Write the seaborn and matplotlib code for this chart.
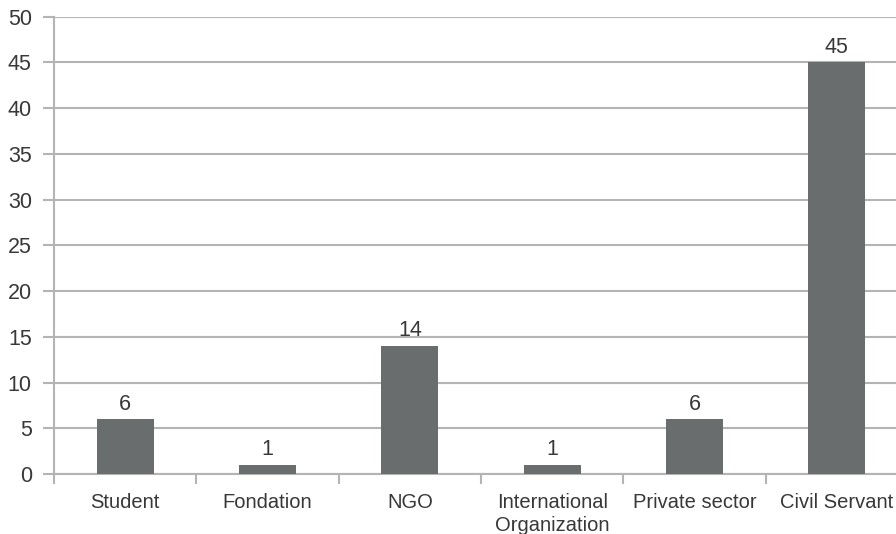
import numpy as np
import pandas as pd
import seaborn as sns
import matplotlib.pyplot as plt
from matplotlib.ticker import FixedLocator

# values
categories = ["Student", "Fondation", "NGO", "International\nOrganization",
              "Private sector", "Civil Servant"]
counts = [6, 1, 14, 1, 6, 45]

bar_color = "#6a6d6d"
grid_color = "#b4b4b4"
text_color = "#383838"

sns.set_theme(style="white")
plt.rcParams["font.family"] = ["Liberation Sans", "DejaVu Sans"]

df = pd.DataFrame({"category": categories, "count": counts})

fig = plt.figure(figsize=(8.96, 5.34), dpi=100)
# axes runs past the right edge, as in the reference
ax = fig.add_axes([54 / 896, 60 / 534, 854 / 896, 457.3 / 534])

sns.barplot(data=df, x="category", y="count", color=bar_color, width=0.4,
            saturation=1, linewidth=0, ax=ax, zorder=3)

ax.set_ylim(0, 50)
ax.set_xlim(-0.5, len(categories) - 0.5)
ax.set_yticks(np.arange(0, 51, 5))
ax.yaxis.grid(True, color=grid_color, linewidth=1.5, zorder=0)
ax.set_axisbelow(True)

ax.set_xlabel("")
ax.set_ylabel("")

for side in ["top", "right"]:
    ax.spines[side].set_visible(False)
for side in ["left", "bottom"]:
    ax.spines[side].set_color(grid_color)
    ax.spines[side].set_linewidth(1.5)

ax.tick_params(axis="y", length=8, width=1.5, color=grid_color, pad=8,
               labelsize=15.5, labelcolor=text_color, left=True)
ax.tick_params(axis="x", which="major", length=0, pad=14,
               labelsize=14.5, labelcolor=text_color)
for lbl in ax.get_xticklabels():
    lbl.set_linespacing(1.25)
ax.xaxis.set_minor_locator(FixedLocator(np.arange(-0.5, len(categories), 1)))
ax.tick_params(axis="x", which="minor", length=7, width=1.5,
               color=grid_color, bottom=True)

for i, v in enumerate(counts):
    ax.text(i, v + 0.5, str(v), ha="center", va="bottom",
            fontsize=15.5, color=text_color)

fig.savefig("out.png", dpi=100)
